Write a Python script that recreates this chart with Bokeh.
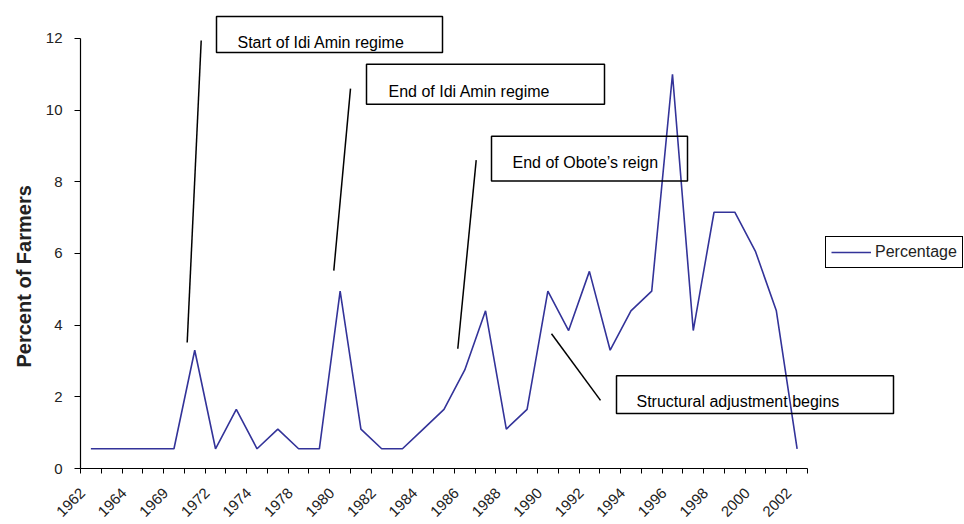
import math
from bokeh.plotting import figure
from bokeh.models import FixedTicker, BoxAnnotation, Label, Range1d, Title
from bokeh.embed import file_html
from bokeh.resources import INLINE

# ---- data ----
tick_labels = ["1962", "1964", "1969", "1972", "1974", "1978", "1980", "1982", "1984",
               "1986", "1988", "1990", "1992", "1994", "1996", "1998", "2000", "2002"]
percentages = [0.55, 0.55, 0.55, 0.55, 0.55, 3.3, 0.55, 1.65, 0.55, 1.1, 0.55, 0.55,
               4.95, 1.1, 0.55, 0.55, 1.1, 1.65, 2.75, 4.4, 1.1, 1.65, 4.95, 3.85,
               5.5, 3.3, 4.4, 4.95, 11.0, 3.85, 7.15, 7.15, 6.05, 4.4, 0.55]
positions = list(range(len(percentages)))

# ---- layout helpers (pixel -> data coords) ----
X0_PX, X1_PX = 80, 807          # category axis extent
Y0_PX, Y12_PX = 469, 38         # y=0 and y=12
XS = (X1_PX - X0_PX) / len(percentages)
YS = (Y0_PX - Y12_PX) / 12.0

def dx(px):
    return -0.5 + (px - X0_PX) / XS

def dy(py):
    return (Y0_PX - py) / YS

FONT = "Liberation Sans"
W, H = 964, 524

p = figure(width=W, height=H, output_backend="svg", toolbar_location=None,
           x_range=Range1d(dx(X0_PX), dx(W)), y_range=Range1d(dy(Y0_PX), dy(0)),
           min_border_left=X0_PX, min_border_right=0, min_border_top=0,
           min_border_bottom=H - Y0_PX)
p.outline_line_color = None
p.grid.visible = False
p.background_fill_color = "white"
p.border_fill_color = "white"

p.line(positions, percentages, line_color="#333399", line_width=1.6,
       legend_label="Percentage")

# x axis: tick marks at category boundaries, labels on every other category
LABEL_SHIFT = 0.4
label_pos = [i * 2 - LABEL_SHIFT for i in range(len(tick_labels))]
xa = p.xaxis[0]
xa.bounds = (-0.5, len(percentages) - 0.5)
xa.ticker = FixedTicker(ticks=label_pos,
                        minor_ticks=[i - 0.5 for i in range(len(percentages) + 1)])
xa.major_label_overrides = {pos: lab for pos, lab in zip(label_pos, tick_labels)}
xa.major_label_orientation = math.pi / 4
xa.major_tick_out = 0
xa.major_tick_in = 0
xa.minor_tick_out = 5
xa.minor_tick_in = 0
xa.minor_tick_line_color = "black"
xa.axis_line_color = "black"
xa.axis_line_width = 1.2
xa.major_label_text_font = FONT
xa.major_label_text_font_size = "15px"
xa.major_label_text_color = "#222222"
xa.major_label_standoff = 17

# y axis
ya = p.yaxis[0]
ya.bounds = (0, 12)
ya.ticker = FixedTicker(ticks=[0, 2, 4, 6, 8, 10, 12])
ya.minor_tick_line_color = None
ya.major_tick_out = 6
ya.major_tick_in = 0
ya.major_tick_line_color = "black"
ya.axis_line_color = "black"
ya.axis_line_width = 1.2
ya.major_label_text_font = FONT
ya.major_label_text_font_size = "15px"
ya.major_label_text_color = "#222222"
ya.major_label_standoff = 12

# y axis title (placed as a side title so it can sit lower, as in the original)
p.add_layout(Title(text="Percent of Farmers", align="left", offset=101,
                   text_font=FONT, text_font_size="20px", text_font_style="bold",
                   text_color="#222222", standoff=16), "left")

# annotations: (box left, top, right, bottom), text start x, baseline y, leader line
notes = [
    ("Start of Idi Amin regime", (216, 16, 442, 52), (237, 42), (200.7, 40, 186.7, 342.7)),
    ("End of Idi Amin regime", (366, 64, 604, 104), (388, 91), (350, 88.3, 333.3, 270.7)),
    ("End of Obote\u2019s reign", (491, 136, 687, 181), (512, 162), (475.7, 160, 457.3, 349)),
    ("Structural adjustment begins", (616, 376, 893, 414), (636, 402), (551, 334, 600, 400.7)),
]
for text, (l, t, r, b), (tx, ty), (x0, y0, x1, y1) in notes:
    p.add_layout(BoxAnnotation(left=dx(l), right=dx(r), top=dy(t), bottom=dy(b),
                               fill_color=None, fill_alpha=0,
                               line_color="black", line_alpha=1, line_width=1.5))
    p.add_layout(Label(x=dx(tx), y=dy(ty), text=text, text_font=FONT,
                       text_font_size="16px", text_color="black",
                       text_baseline="alphabetic", text_align="left"))
    p.segment(x0=[dx(x0)], y0=[dy(y0)], x1=[dx(x1)], y1=[dy(y1)],
              line_color="black", line_width=1.5)

# legend
lg = p.legend[0]
lg.location = (825 - X0_PX, Y0_PX - 269)
lg.border_line_color = "black"
lg.border_line_alpha = 1
lg.border_line_width = 1.5
lg.background_fill_alpha = 1
lg.padding = 5
lg.margin = 0
lg.glyph_width = 40
lg.glyph_height = 20
lg.label_height = 20
lg.label_standoff = 4
lg.label_text_font = FONT
lg.label_text_font_size = "16px"
lg.label_text_color = "#222222"

open("out.html", "w").write(file_html(p, INLINE))
